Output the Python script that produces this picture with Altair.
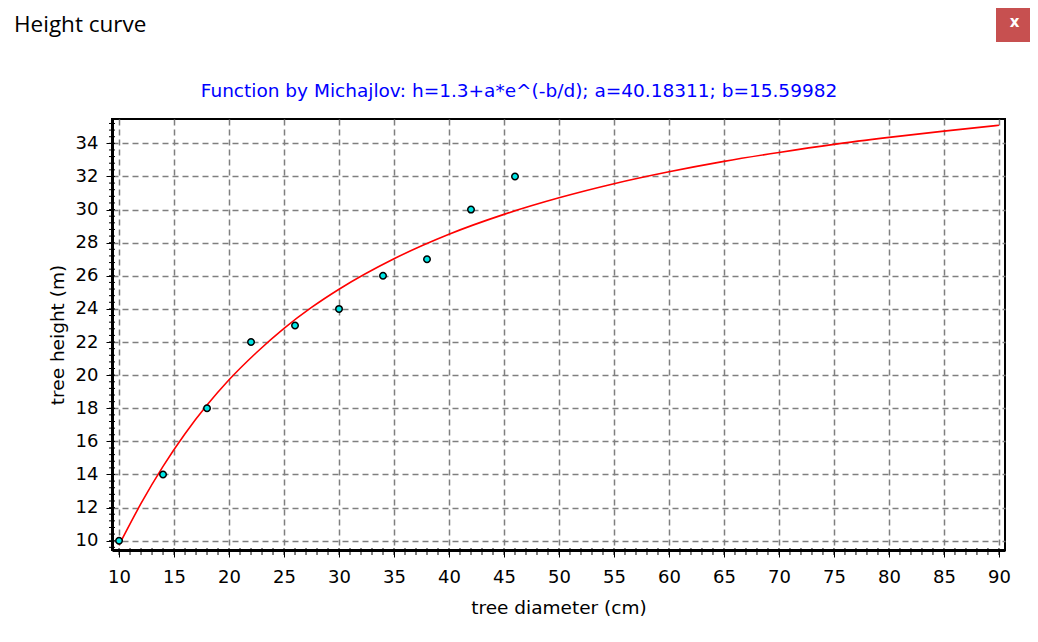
import altair as alt
import pandas as pd

# observed data points (tree diameter cm, tree height m)
obs_d = [10, 14, 18, 22, 26, 30, 34, 38, 42, 46]
obs_h = [10, 14, 18, 22, 23, 24, 26, 27, 30, 32]

# fitted height curve
curve_d = [10, 12, 14, 16, 18, 20, 22.5, 25, 27.5, 30, 35, 40, 45, 50, 55, 60, 65, 70, 75, 80, 85, 90]
curve_h = [9.74, 12.25, 14.49, 16.46, 18.19, 19.72, 21.37, 22.83, 24.09, 25.19, 27.03, 28.51, 29.71,
           30.71, 31.56, 32.28, 32.91, 33.45, 33.94, 34.36, 34.74, 35.09]

x_major = list(range(10, 91, 5))
x_minor = list(range(10, 91, 1))
y_major = list(range(10, 35, 2))
y_minor = [round(9.6 + 0.4 * k, 1) for k in range(0, 65)]

window_title = "Height curve"
chart_title = "Function by Michajlov: h=1.3+a*e^(-b/d); a=40.18311; b=15.59982"
x_title = "tree diameter (cm)"
y_title = "tree height (m)"

FONT = "DejaVu Sans"
W, H = 893, 431

obs = pd.DataFrame({"d": obs_d, "h": obs_h})
curve = pd.DataFrame({"d": curve_d, "h": curve_h})
xmin_df = pd.DataFrame({"d": x_minor})
ymin_df = pd.DataFrame({"h": y_minor})
one = pd.DataFrame({"k": [0]})

xs = alt.Scale(domain=[9.36, 90.55], nice=False, zero=False)
ys = alt.Scale(domain=[9.44, 35.47], nice=False, zero=False)

x_axis = alt.Axis(
    values=x_major, title=x_title, orient="bottom", grid=True, gridColor="#7f7f7f", gridDash=[6, 4],
    gridWidth=1.5, domainColor="#000000", domainWidth=3, tickColor="#000000", tickSize=7, tickWidth=1,
    labelFont=FONT, labelFontSize=18, labelColor="#000000", labelPadding=11, labelFlush=False,
    labelOverlap=False,
    titleFont=FONT, titleFontSize=18.5, titleFontWeight="normal", titleColor="#000000",
    titleY=57, titleBaseline="middle")
y_axis = alt.Axis(
    values=y_major, title=y_title, orient="left", grid=True, gridColor="#7f7f7f", gridDash=[6, 4],
    gridWidth=1.5, domainColor="#000000", domainWidth=3, tickColor="#000000", tickSize=6, tickWidth=1,
    labelFont=FONT, labelFontSize=18, labelColor="#000000", labelPadding=8, labelFlush=False,
    labelOverlap=False,
    titleFont=FONT, titleFontSize=18.5, titleFontWeight="normal", titleColor="#000000",
    titleX=-55, titleBaseline="middle")

line = alt.Chart(curve).mark_line(color="#ff0000", strokeWidth=1.6, interpolate="monotone", clip=True).encode(
    x=alt.X("d:Q", scale=xs, axis=x_axis),
    y=alt.Y("h:Q", scale=ys, axis=y_axis),
)

x_minor_ticks = alt.Chart(xmin_df).mark_rule(color="#000000", strokeWidth=1).encode(
    x=alt.X("d:Q", scale=xs, axis=x_axis), y=alt.value(H - 2), y2=alt.value(H + 5))

y_minor_ticks = alt.Chart(ymin_df).mark_rule(color="#000000", strokeWidth=1).encode(
    y=alt.Y("h:Q", scale=ys, axis=y_axis), x=alt.value(-3), x2=alt.value(3))

points = alt.Chart(obs).mark_point(filled=True, fill="#00e5e5", stroke="#000000", strokeWidth=1.5,
                                   size=42, opacity=1, shape="circle").encode(
    x=alt.X("d:Q", scale=xs, axis=x_axis), y=alt.Y("h:Q", scale=ys, axis=y_axis)
)

title_txt = alt.Chart(one).mark_text(font=FONT, fontSize=18.5, color="#0000ff", align="center",
                                     baseline="middle").encode(
    x=alt.value(407), y=alt.value(-28), text=alt.value(chart_title))

win_txt = alt.Chart(one).mark_text(font="Open Sans", fontSize=22.5, color="#000000", align="left",
                                   baseline="middle").encode(
    x=alt.value(-98), y=alt.value(-94), text=alt.value(window_title))

close_btn = alt.Chart(one).mark_rect(color="#c75050").encode(
    x=alt.value(884), x2=alt.value(921), y=alt.value(-115), y2=alt.value(-77))

close_x = alt.Chart(one).mark_text(font="DejaVu Sans", fontSize=15, fontWeight="bold", color="#ffffff",
                                   align="center", baseline="middle").encode(
    x=alt.value(902.5), y=alt.value(-97), text=alt.value("x"))

chart = alt.layer(line, x_minor_ticks, y_minor_ticks, points, title_txt, win_txt, close_btn, close_x).properties(
    width=W, height=H,
    autosize=alt.AutoSizeParams(type="none"),
    padding={"left": 104, "top": 111, "right": 25, "bottom": 80},
    background="#ffffff",
).configure_view(stroke="#000000", strokeWidth=2)

chart.save("out.html", embed_options={"renderer": "svg", "actions": False})
